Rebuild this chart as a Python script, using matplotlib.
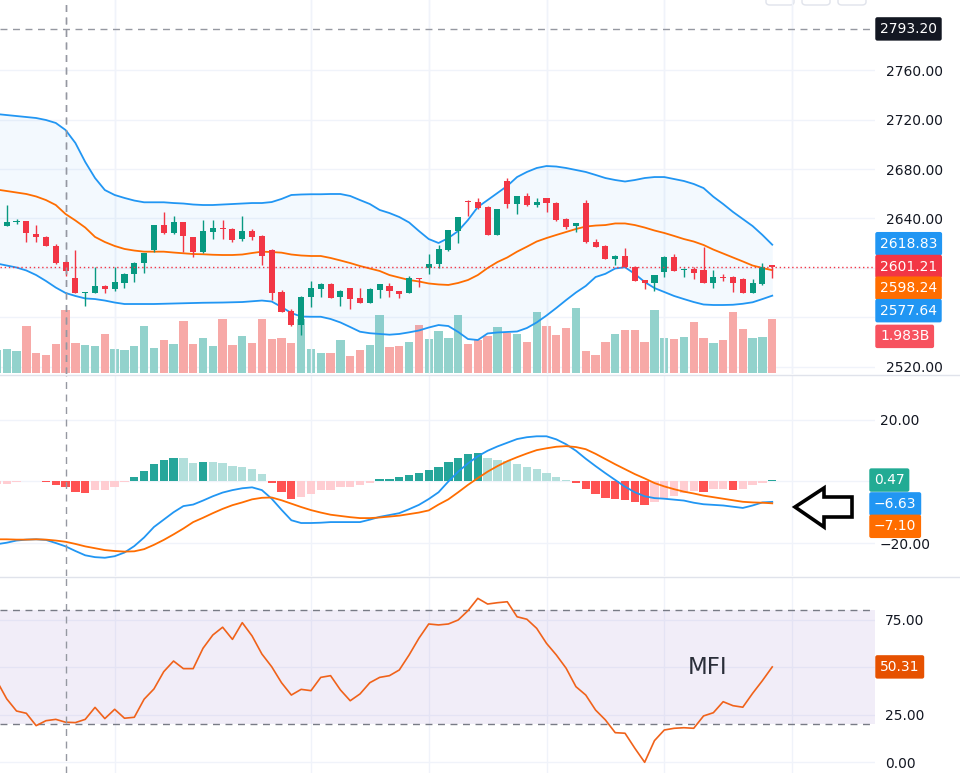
import numpy as np
import matplotlib
matplotlib.use('Agg')
import matplotlib.pyplot as plt
import matplotlib.transforms as mtransforms
from matplotlib.patches import Polygon, FancyBboxPatch
from matplotlib.lines import Line2D
from matplotlib.ticker import FuncFormatter

plt.rcParams['font.family'] = ['DejaVu Sans']

# ---------------- DATA (candle index -1 .. 78) ----------------
open_ = [2641, 2634.2, 2637.0, 2637.7, 2627.5, 2625.1, 2618.0, 2604.6, 2591.7, 2580.0,
         2580.1, 2585.7, 2583.0, 2588.1, 2595.2, 2603.8, 2614.5, 2634.7, 2628.0, 2636.9,
         2624.8, 2612.7, 2629.4, 2632.1, 2631.8, 2623.2, 2630.1, 2626.1, 2614.5, 2580.9,
         2565.3, 2553.9, 2576.8, 2583.0, 2587.1, 2576.3, 2583.8, 2576.0, 2572.0, 2582.2,
         2585.7, 2581.4, 2579.6, 2591.7, 2600.2, 2603.0, 2614.5, 2630.1, 2654.5, 2653.3,
         2649.5, 2626.7, 2670.3, 2651.7, 2658.4, 2651.2, 2656.3, 2652.8, 2639.6, 2633.9,
         2652.2, 2621.3, 2618.0, 2607.3, 2610.0, 2601.1, 2590.3, 2587.6, 2597.0, 2609.1,
         2598.1, 2599.2, 2598.4, 2588.1, 2593.0, 2592.5, 2590.9, 2580.1, 2586.8, 2602.2]
high = [2647, 2651.0, 2639.3, 2637.9, 2634.7, 2625.5, 2619.1, 2606.5, 2614.5, 2580.8,
        2600.6, 2586.0, 2601.1, 2596.0, 2604.5, 2612.5, 2635.0, 2645.5, 2642.0, 2637.2,
        2625.0, 2638.8, 2638.8, 2638.8, 2632.0, 2642.0, 2631.5, 2626.5, 2615.0, 2582.5,
        2567.0, 2577.0, 2589.5, 2587.5, 2587.5, 2582.0, 2584.0, 2583.6, 2583.6, 2587.0,
        2587.8, 2581.5, 2593.5, 2592.0, 2611.3, 2618.6, 2631.0, 2641.5, 2655.0, 2656.3,
        2650.0, 2648.0, 2672.4, 2658.5, 2660.4, 2656.3, 2656.5, 2653.5, 2640.6, 2636.5,
        2654.9, 2623.2, 2618.3, 2610.3, 2615.9, 2601.3, 2590.5, 2594.5, 2609.5, 2611.3,
        2599.6, 2601.1, 2616.7, 2598.4, 2595.2, 2593.5, 2592.2, 2590.9, 2604.3, 2602.5]
low = [2636, 2634.0, 2635.6, 2621.3, 2621.3, 2617.5, 2603.5, 2593.8, 2579.4, 2569.3,
       2580.0, 2579.6, 2581.4, 2584.1, 2588.9, 2596.2, 2613.2, 2627.5, 2627.8, 2613.2,
       2608.6, 2612.0, 2623.2, 2623.2, 2621.3, 2622.0, 2623.0, 2602.4, 2574.1, 2564.5,
       2553.5, 2545.9, 2568.7, 2576.8, 2575.5, 2569.3, 2566.6, 2571.5, 2571.5, 2575.5,
       2576.8, 2575.5, 2579.5, 2584.4, 2594.9, 2599.8, 2613.7, 2620.4, 2642.3, 2647.4,
       2626.5, 2626.5, 2648.2, 2643.4, 2650.5, 2649.0, 2645.5, 2638.3, 2631.3, 2629.4,
       2620.5, 2617.0, 2607.0, 2602.4, 2600.8, 2589.5, 2583.0, 2581.4, 2593.0, 2597.5,
       2593.0, 2591.1, 2588.0, 2584.1, 2589.8, 2580.8, 2580.0, 2580.0, 2586.5, 2591.7]
close = [2644, 2636.9, 2637.8, 2628.5, 2624.8, 2617.8, 2603.8, 2597.3, 2579.6, 2580.6,
         2585.7, 2583.0, 2588.7, 2595.4, 2604.3, 2612.1, 2634.7, 2628.0, 2636.9, 2626.1,
         2612.7, 2629.9, 2632.1, 2631.3, 2622.6, 2629.9, 2625.3, 2609.7, 2580.1, 2564.7,
         2553.9, 2576.8, 2583.6, 2587.1, 2576.0, 2581.7, 2575.2, 2572.0, 2583.0, 2586.8,
         2581.2, 2579.0, 2591.7, 2590.9, 2603.0, 2615.4, 2630.7, 2641.0, 2653.3, 2648.7,
         2626.7, 2647.4, 2651.7, 2658.4, 2650.9, 2653.6, 2652.2, 2638.8, 2632.9, 2636.1,
         2620.8, 2617.2, 2607.3, 2610.0, 2601.1, 2589.8, 2587.6, 2594.3, 2609.1, 2597.8,
         2599.4, 2595.7, 2588.1, 2592.5, 2591.9, 2588.1, 2580.1, 2587.6, 2601.1, 2601.21]
volume_b = [0.84, 0.88, 0.80, 1.74, 0.72, 0.67, 1.06, 2.33, 1.11, 1.03,
            0.99, 1.43, 0.88, 0.84, 0.99, 1.74, 0.93, 1.20, 1.06, 1.92,
            1.06, 1.30, 0.98, 1.98, 1.03, 1.35, 1.11, 1.98, 1.25, 1.30,
            1.12, 1.98, 0.88, 0.72, 0.75, 1.20, 0.62, 0.84, 1.03, 2.15,
            0.94, 1.00, 1.16, 1.79, 1.25, 1.56, 1.30, 2.15, 1.08, 1.21,
            1.35, 1.69, 1.48, 1.43, 1.16, 2.24, 1.75, 1.40, 1.66, 2.42,
            0.80, 0.67, 1.15, 1.43, 1.57, 1.57, 1.15, 2.33, 1.30, 1.25,
            1.33, 1.88, 1.30, 1.11, 1.20, 2.24, 1.61, 1.30, 1.33, 1.983]
bb_upper = [2724.4, 2723.6, 2722.8, 2722.0, 2721.2, 2719.6, 2717.2, 2711.5, 2701.0, 2685.7,
            2672.7, 2663.0, 2659.0, 2656.6, 2654.5, 2653.1, 2653.1, 2653.1, 2652.5, 2652.1,
            2651.3, 2650.9, 2650.9, 2651.3, 2651.7, 2652.1, 2652.5, 2652.5, 2653.3, 2655.8,
            2659.0, 2659.4, 2659.6, 2659.6, 2659.8, 2659.8, 2658.2, 2654.9, 2651.7, 2646.9,
            2644.4, 2641.2, 2636.8, 2629.9, 2623.4, 2620.2, 2624.2, 2629.9, 2638.8, 2649.3,
            2654.9, 2660.6, 2666.3, 2673.5, 2677.6, 2680.8, 2682.4, 2682.0, 2680.8, 2679.2,
            2677.6, 2675.2, 2672.7, 2671.1, 2669.9, 2671.1, 2672.7, 2673.5, 2673.5, 2671.9,
            2670.3, 2667.9, 2664.6, 2657.6, 2651.7, 2645.3, 2639.6, 2633.9, 2626.7, 2618.83]
bb_basis = [2663.4, 2662.2, 2661.0, 2659.8, 2657.8, 2654.9, 2650.9, 2643.6, 2638.4, 2632.7,
            2625.1, 2621.0, 2617.8, 2615.4, 2614.1, 2613.2, 2613.2, 2613.2, 2612.5, 2611.9,
            2611.3, 2611.1, 2610.7, 2610.5, 2610.5, 2610.9, 2612.1, 2613.2, 2612.9, 2612.4,
            2610.9, 2610.1, 2609.7, 2609.7, 2608.1, 2606.1, 2604.0, 2601.6, 2599.6, 2597.6,
            2594.3, 2592.3, 2590.3, 2589.1, 2587.5, 2586.7, 2586.3, 2587.9, 2590.3, 2594.3,
            2600.0, 2604.8, 2608.5, 2613.2, 2617.2, 2621.4, 2624.2, 2626.7, 2629.1, 2631.5,
            2633.5, 2634.3, 2634.7, 2636.0, 2636.0, 2634.7, 2632.7, 2630.3, 2628.3, 2625.9,
            2623.4, 2621.4, 2618.6, 2614.9, 2611.7, 2608.5, 2605.3, 2602.0, 2600.0, 2598.24]
bb_lower = [2603.6, 2602.0, 2600.4, 2598.0, 2594.3, 2589.5, 2584.2, 2579.8, 2577.4, 2575.4,
            2574.9, 2573.7, 2572.1, 2570.9, 2570.9, 2570.9, 2570.9, 2571.1, 2571.3, 2571.5,
            2571.7, 2571.9, 2572.0, 2572.1, 2572.3, 2572.5, 2573.1, 2573.7, 2572.9, 2568.5,
            2563.6, 2560.8, 2560.6, 2560.6, 2558.8, 2556.0, 2552.3, 2548.5, 2547.3, 2546.7,
            2546.1, 2546.7, 2548.0, 2549.5, 2551.9, 2553.9, 2553.1, 2548.3, 2542.6, 2541.8,
            2547.1, 2547.9, 2548.3, 2548.7, 2551.5, 2556.0, 2561.6, 2567.7, 2574.1, 2580.2,
            2585.5, 2592.7, 2595.3, 2599.6, 2600.6, 2595.2, 2588.7, 2583.8, 2580.6, 2577.4,
            2574.9, 2572.5, 2570.5, 2570.1, 2570.1, 2570.3, 2571.1, 2572.3, 2574.9, 2577.64]
macd_line = [-20.4, -19.9, -19.2, -18.9, -18.8, -19.0, -20.0, -21.1, -22.6, -24.0,
             -24.6, -24.8, -24.3, -23.1, -21.0, -18.2, -14.8, -12.4, -10.0, -8.0,
             -7.5, -6.2, -4.8, -3.6, -2.8, -2.2, -1.9, -2.8, -5.6, -9.2,
             -12.6, -13.5, -13.5, -13.4, -13.2, -13.2, -13.2, -13.2, -12.4, -11.5,
             -10.9, -10.3, -9.0, -7.6, -5.7, -3.5, 0.0, 3.2, 5.9, 8.2,
             10.0, 11.4, 12.6, 13.8, 14.4, 14.7, 14.7, 13.7, 12.1, 10.0,
             7.4, 5.0, 2.7, 0.5, -1.7, -3.5, -4.8, -5.4, -5.6, -5.9,
             -6.2, -6.9, -7.4, -7.6, -7.8, -8.2, -8.6, -7.8, -6.8, -6.63]
signal_line = [-18.8, -18.8, -18.9, -18.9, -18.8, -18.9, -19.2, -19.6, -20.3, -21.1,
               -21.7, -22.3, -22.6, -22.8, -22.7, -22.0, -20.6, -19.0, -17.2, -15.3,
               -13.2, -11.8, -10.3, -8.9, -7.7, -6.8, -5.8, -5.3, -5.2, -6.1,
               -7.2, -8.3, -9.3, -10.1, -10.8, -11.2, -11.6, -11.9, -11.9, -11.7,
               -11.4, -11.1, -10.6, -10.1, -9.4, -7.5, -5.8, -3.5, -1.1, 1.1,
               3.2, 5.0, 6.6, 7.9, 9.1, 10.2, 10.8, 11.3, 11.5, 11.2,
               10.5, 9.0, 7.3, 5.6, 4.0, 2.4, 1.0, -0.5, -1.6, -2.5,
               -3.3, -3.9, -4.6, -5.1, -5.6, -6.1, -6.6, -6.8, -6.9, -7.10]
macd_hist = [-0.8, -0.7, -0.3, 0.3, 0.3, -0.3, -1.1, -1.8, -3.5, -3.9,
             -2.9, -2.7, -1.8, -0.3, 1.6, 3.4, 5.6, 6.9, 7.7, 7.6,
             6.1, 6.4, 6.3, 6.1, 5.2, 4.8, 4.1, 2.5, -0.5, -3.4,
             -5.7, -5.2, -4.2, -2.9, -2.7, -1.8, -1.8, -1.2, -0.5, 0.8,
             0.9, 1.4, 2.2, 2.9, 3.7, 4.8, 6.3, 7.8, 9.1, 9.4,
             7.5, 6.9, 6.7, 5.7, 4.8, 4.0, 2.9, 1.6, 0.5, -0.65,
             -2.3, -4.1, -5.3, -5.7, -6.1, -6.6, -7.5, -6.6, -5.7, -4.8,
             -3.9, -3.2, -3.4, -2.5, -2.3, -2.8, -2.3, -1.2, -0.43, 0.47]
mfi = [42.9, 33.5, 27.1, 25.9, 19.4, 22.0, 22.7, 21.2, 21.0, 22.7,
       29.0, 23.1, 28.0, 23.3, 23.8, 33.3, 38.7, 47.8, 53.4, 49.4,
       49.4, 60.1, 67.1, 71.2, 64.8, 73.6, 66.6, 57.1, 50.4, 42.0,
       35.5, 38.5, 37.8, 44.8, 45.7, 38.2, 32.5, 36.1, 42.0, 44.8,
       45.7, 48.7, 56.6, 65.4, 72.9, 72.4, 72.9, 75.0, 79.9, 86.4,
       83.4, 84.1, 84.6, 76.7, 75.4, 70.6, 62.7, 56.6, 49.6, 39.9,
       35.5, 27.6, 22.4, 15.7, 15.4, 7.5, 0.1, 11.5, 17.1, 18.0,
       18.3, 18.0, 24.5, 26.2, 32.0, 29.9, 29.1, 36.4, 43.1, 50.31]
price_grid = [2520, 2560, 2600, 2640, 2680, 2720, 2760]
price_tick_labels = [2520, 2640, 2680, 2720, 2760]     # 2560/2600 hidden behind value tags
macd_grid = [-20, 0, 20]
macd_tick_labels = [-20, 20]
mfi_grid = [0, 25, 50, 75]
mfi_tick_labels = [0, 25, 75]
time_grid_idx = [11, 31, 43, 55, 67, 80]
crosshair_idx = 6
crosshair_price = 2793.20
mfi_upper_band, mfi_lower_band = 80, 20

# ---------------- STYLE ----------------
UP, DOWN = '#089981', '#f23645'
VOL_UP, VOL_DOWN = '#92d2cc', '#f7a9a7'
BLUE, ORANGE = '#2196f3', '#ff6d00'
GRID = '#f0f3fa'
TXT = '#131722'
CROSS = '#9598a1'

W, H = 960, 773
fig = plt.figure(figsize=(W / 100, H / 100), dpi=100)
fig.patch.set_facecolor('white')


def rect(top, bottom, left=0, right=875):
    return [left / W, 1 - bottom / H, (right - left) / W, (bottom - top) / H]


ax_vol = fig.add_axes(rect(0, 374))
ax = fig.add_axes(rect(0, 374))
ax_macd = fig.add_axes(rect(375, 576))
ax_mfi = fig.add_axes(rect(577, 773))
ax_vol.set_zorder(0)
ax.set_zorder(1)
ax.patch.set_visible(False)

idx = np.arange(-1, len(open_) - 1)
o = np.array(open_); h = np.array(high); l = np.array(low); c = np.array(close)
up = c >= o

XL = (-0.683, 88.47)
for a in (ax_vol, ax, ax_macd, ax_mfi):
    a.set_xlim(*XL)
    for s in a.spines.values():
        s.set_visible(False)
    a.tick_params(axis='x', bottom=False, labelbottom=False)
    a.tick_params(axis='y', length=0, labelsize=10, labelcolor=TXT)
    for t in time_grid_idx:
        a.axvline(t, color=GRID, lw=1, zorder=0)
    a.axvline(crosshair_idx, color=CROSS, lw=1, ls=(0, (5, 4)), zorder=5)

fmt = FuncFormatter(lambda v, p: f"{v:.2f}".replace('-', '\u2212'))

# ---------------- volume ----------------
PR_LO, PR_HI = 2514.34, 2816.57
V_LO, V_HI = -0.048, 13.86
ax_vol.set_ylim(V_LO, V_HI)
ax_vol.set_yticks([])
ax_vol.bar(idx, volume_b, width=0.85, color=np.where(up, VOL_UP, VOL_DOWN), zorder=2)

# ---------------- main price pane ----------------
ax.set_ylim(PR_LO, PR_HI)
ax.yaxis.tick_right()
ax.set_yticks(price_tick_labels)
ax.yaxis.set_major_formatter(fmt)
ax.tick_params(axis='y', pad=7.9)
for p in price_grid:
    ax_vol.axhline(V_LO + (p - PR_LO) / (PR_HI - PR_LO) * (V_HI - V_LO), color=GRID, lw=1, zorder=0)

ax.fill_between(idx, bb_lower, bb_upper, color=BLUE, alpha=0.05, lw=0, zorder=1)
ax.plot(idx, bb_upper, color=BLUE, lw=1.3, zorder=2)
ax.plot(idx, bb_lower, color=BLUE, lw=1.3, zorder=2)
ax.plot(idx, bb_basis, color=ORANGE, lw=1.3, zorder=2)

ccol = np.where(up, UP, DOWN)
ax.vlines(idx, l, h, colors=ccol, lw=1, zorder=3)
body = np.maximum(np.abs(c - o), 0.8)
ax.bar(idx, body, bottom=np.minimum(o, c), width=0.62, color=ccol, zorder=4, lw=0)

ax.axhline(close[-1], color=DOWN, lw=1, ls=(0, (1, 2)), zorder=4)
ax.axhline(crosshair_price, color=CROSS, lw=1, ls=(0, (5, 4)), zorder=5)


def value_label(axis, yval, text, color, dy=0, xoff=4, fs=10):
    trans = mtransforms.blended_transform_factory(axis.transAxes, axis.transData)
    axis.annotate(text, xy=(1, yval), xycoords=trans, xytext=(xoff, -dy),
                  textcoords='offset pixels', ha='left', va='center', color='white',
                  fontsize=fs, annotation_clip=False, zorder=10,
                  bbox=dict(boxstyle='round,pad=0.34,rounding_size=0.15', fc=color, ec='none'))


value_label(ax, crosshair_price, f"{crosshair_price:.2f}", '#131722', xoff=5)
value_label(ax, bb_upper[-1], f"{bb_upper[-1]:.2f}", BLUE, dy=-1, xoff=5)
value_label(ax, close[-1], f"{close[-1]:.2f}", DOWN, xoff=5)
value_label(ax, bb_basis[-1], f"{bb_basis[-1]:.2f}", ORANGE, dy=18, xoff=5)
value_label(ax, bb_lower[-1], f"{bb_lower[-1]:.2f}", BLUE, dy=15, xoff=5)
trans_v = mtransforms.blended_transform_factory(ax_vol.transAxes, ax_vol.transData)
ax_vol.annotate(f"{volume_b[-1]:.3f}B", xy=(1, volume_b[-1]), xycoords=trans_v, xytext=(5, -17),
                textcoords='offset pixels', ha='left', va='center', color='white', fontsize=10,
                annotation_clip=False, zorder=10,
                bbox=dict(boxstyle='round,pad=0.34,rounding_size=0.15', fc='#f7525f', ec='none'))

# ---------------- MACD pane ----------------
ax_macd.set_ylim(-30.73, 34.63)
ax_macd.yaxis.tick_right()
ax_macd.set_yticks(macd_tick_labels)
ax_macd.yaxis.set_major_formatter(fmt)
ax_macd.tick_params(axis='y', pad=3.6)
for t in macd_grid:
    ax_macd.axhline(t, color=GRID, lw=1, zorder=0)
hist = np.array(macd_hist)
prev = np.concatenate([[hist[0]], hist[:-1]])
hcol = np.where(hist >= 0, np.where(hist >= prev, '#26a69a', '#b2dfdb'),
                np.where(hist < prev, '#ff5252', '#ffcdd2'))
ax_macd.bar(idx, hist, width=0.85, color=hcol, zorder=2)
ax_macd.plot(idx, macd_line, color=BLUE, lw=1.3, zorder=3)
ax_macd.plot(idx, signal_line, color=ORANGE, lw=1.3, zorder=3)
value_label(ax_macd, hist[-1], f"{hist[-1]:.2f}", '#22ab94', xoff=-1)
value_label(ax_macd, macd_line[-1], f"{macd_line[-1]:.2f}".replace('-', '\u2212'), BLUE, dy=2, xoff=-1)
value_label(ax_macd, signal_line[-1], f"{signal_line[-1]:.2f}".replace('-', '\u2212'), ORANGE, dy=23, xoff=-1)

# ---------------- MFI pane ----------------
ax_mfi.set_ylim(-5.53, 97.63)
ax_mfi.yaxis.tick_right()
ax_mfi.set_yticks(mfi_tick_labels)
ax_mfi.yaxis.set_major_formatter(fmt)
ax_mfi.tick_params(axis='y', pad=7.2)
for t in mfi_grid:
    ax_mfi.axhline(t, color=GRID, lw=1, zorder=0)
ax_mfi.axhspan(mfi_lower_band, mfi_upper_band, color='#7e57c2', alpha=0.1, lw=0, zorder=1)
ax_mfi.axhline(mfi_upper_band, color='#787b86', lw=1, ls=(0, (5, 4)), zorder=2)
ax_mfi.axhline(mfi_lower_band, color='#787b86', lw=1, ls=(0, (5, 4)), zorder=2)
ax_mfi.plot(idx, mfi, color='#f0621a', lw=1.2, zorder=3)
ax_mfi.text(71.45, 50, 'MFI', fontsize=16.5, color='#2a2e39', ha='center', va='center', zorder=4)
value_label(ax_mfi, mfi[-1], f"{mfi[-1]:.2f}", '#e65100', xoff=5)

# ---------------- pane separators & decorations ----------------
for ypx in (374.5, 576.5):
    fig.add_artist(Line2D([0, 1], [1 - ypx / H] * 2, transform=fig.transFigure, color='#e0e3eb', lw=1))

arrow_px = [(795, 507), (824, 488), (824, 497), (852, 497), (852, 517), (824, 517), (824, 527)]
fig.add_artist(Polygon([(x / W, 1 - y / H) for x, y in arrow_px], closed=True, transform=fig.transFigure,
                       fc='white', ec='black', lw=2.6, joinstyle='miter'))

for x0 in (766, 802, 838):
    fig.add_artist(FancyBboxPatch((x0 / W, 1 - 5 / H), 28 / W, 20 / H, boxstyle='round,pad=0,rounding_size=0.004',
                                  transform=fig.transFigure, fc='white', ec='#e0e3eb', lw=1))

fig.savefig('out.png', dpi=100)
